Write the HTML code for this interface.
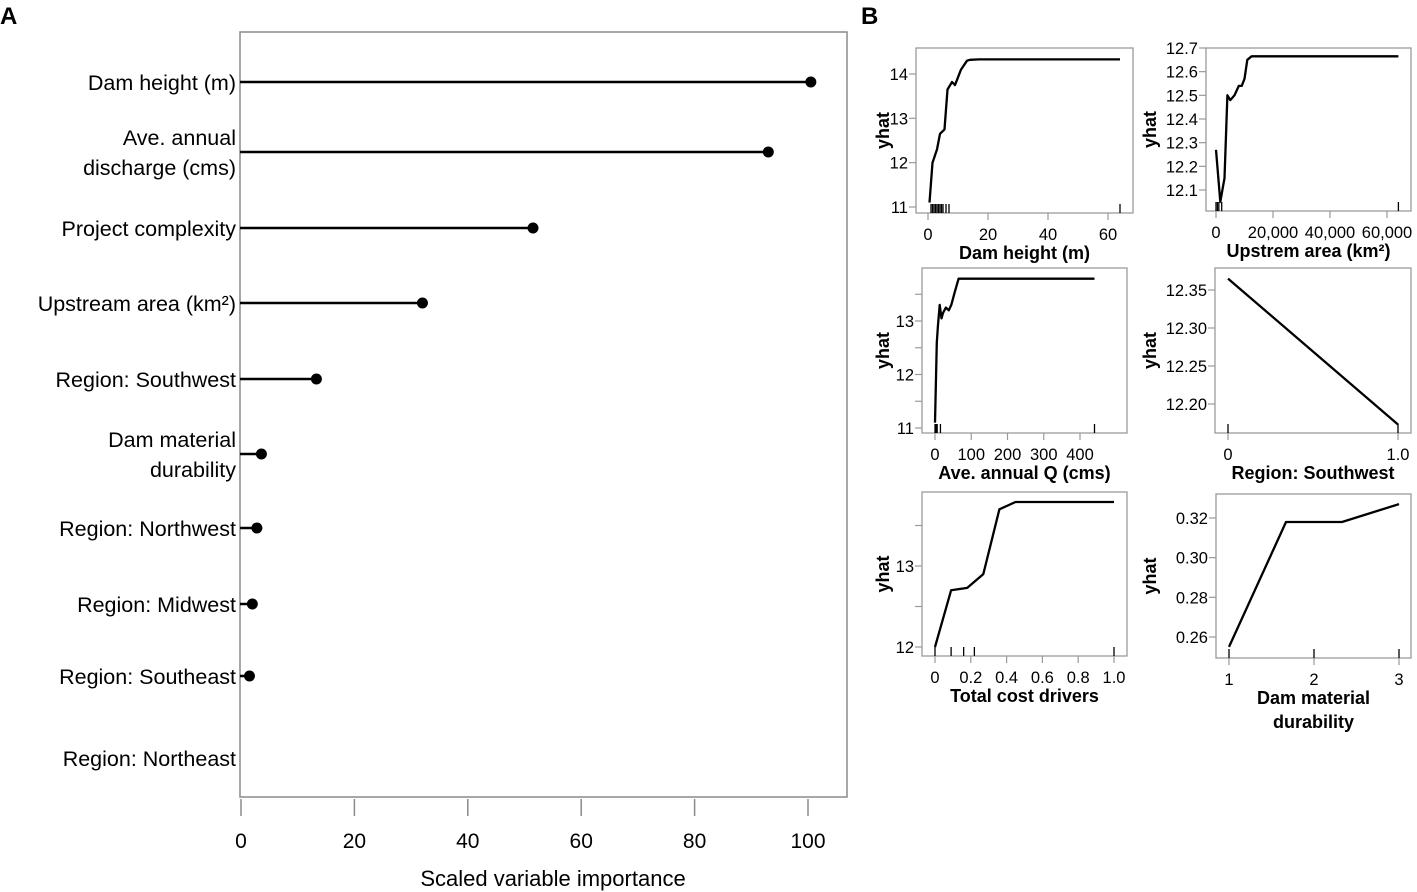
<!DOCTYPE html>
<html><head><meta charset="utf-8"><style>
html,body{margin:0;padding:0;background:#fff;}
svg{display:block;font-family:"Liberation Sans",sans-serif;}
</style></head><body>
<svg id="fig" width="1417" height="892" viewBox="0 0 1417 892" xmlns="http://www.w3.org/2000/svg">
<text x="0" y="24" font-size="24" font-weight="bold">A</text>
<text x="861" y="24" font-size="24" font-weight="bold">B</text>
<g id="pa"></g>
<g id="pb"></g>
</svg>
<script>
const NS="http://www.w3.org/2000/svg";
// Panel A data
const impLabels=[["Dam height (m)"],["Ave. annual","discharge (cms)"],["Project complexity"],["Upstream area (km²)"],["Region: Southwest"],["Dam material","durability"],["Region: Northwest"],["Region: Midwest"],["Region: Southeast"],["Region: Northeast"]];
const impValues=[100.5,93,51.5,32,13.3,3.6,2.8,2,1.5,null];
const impRowY=[82,152,228,303,379,454,528,604,676,758];
const impTicks=[0,20,40,60,80,100];

// Panel B data
const p1x=[0.5,1.5,3,4,5.5,6.5,8,9,11,13,14,17,64];
const p1y=[11.1,12,12.3,12.65,12.75,13.65,13.82,13.75,14.1,14.3,14.32,14.33,14.33];
const p1rug=[1,1.5,2,2.5,3,3.5,4,4.5,5,6,7,64];
const p2x=[0,1500,3000,4000,5000,6500,8000,9000,10000,11000,12500,64000];
const p2y=[12.27,12.05,12.15,12.5,12.48,12.5,12.54,12.54,12.57,12.65,12.665,12.665];
const p2rug=[0,500,1000,2000,64000];
const p3x=[0,5,8,13,18,22,30,38,45,55,65,440];
const p3y=[11.1,12.6,12.9,13.3,13.05,13.15,13.25,13.2,13.3,13.55,13.79,13.79];
const p3rug=[0,2,4,6,15,440];
const p4x=[0,1];
const p4y=[12.365,12.173];
const p4rug=[0,1];
const p5x=[0,0.09,0.18,0.27,0.36,0.45,1.0];
const p5y=[12,12.7,12.73,12.9,13.7,13.79,13.79];
const p5rug=[0,0.09,0.16,0.22,1.0];
const p6x=[1,1.67,2.33,3];
const p6y=[0.255,0.318,0.318,0.327];
const p6rug=[1,2,3];

function el(tag,attrs,parent,txt){const e=document.createElementNS(NS,tag);for(const k in attrs)e.setAttribute(k,attrs[k]);if(txt!==undefined)e.textContent=txt;parent.appendChild(e);return e;}

// Panel A
(function(){
  const g=document.getElementById('pa');
  const x=v=>241+v*5.67;
  const fr=el('rect',{x:240,y:32,width:607,height:765,fill:'none',stroke:'#8a8a8a','stroke-width':1.5},g);
  
  impTicks.forEach(t=>{
    const l=el('line',{x1:x(t),x2:x(t),y1:799,y2:816,stroke:'#8a8a8a','stroke-width':1.5},g);
    
    const tx=el('text',{x:x(t),y:848,'font-size':21,'text-anchor':'middle'},g,String(t));
    
  });
  const ttl=el('text',{x:553,y:886,'font-size':22,'text-anchor':'middle'},g,'Scaled variable importance');
  
  impLabels.forEach((lab,i)=>{
    const yy=impRowY[i];
    lab.forEach((s,j)=>{
      const off=lab.length===1?8:(j===0?-7:23);
      const t=el('text',{x:236,y:yy+off,'font-size':21.5,'text-anchor':'end'},g,s);
      
    });
    const v=impValues[i];
    if(v!==null){
      const ln=el('line',{x1:240,x2:x(v),y1:yy,y2:yy,stroke:'#000','stroke-width':2.5},g);
      
      const c=el('circle',{cx:x(v),cy:yy,r:5.5,fill:'#000'},g);
      
    }
  });
})();

// Panel B
function pd(cfg){
  const g=el('g',{},document.getElementById('pb'));
  
  const X=v=>cfg.x0+(v-cfg.xa)*(cfg.x1-cfg.x0)/(cfg.xb-cfg.xa);
  const Y=v=>cfg.y0+(v-cfg.ya)*(cfg.y1-cfg.y0)/(cfg.yb-cfg.ya);
  const f=el('rect',{x:cfg.fl,y:cfg.ft,width:cfg.fr-cfg.fl,height:cfg.fb-cfg.ft,fill:'none',stroke:'#9a9a9a','stroke-width':1.3},g);
  
  cfg.yt.forEach((t,i)=>{
    const l=el('line',{x1:cfg.fl-7,x2:cfg.fl,y1:Y(t),y2:Y(t),stroke:'#9a9a9a','stroke-width':1.2},g);
    
    if(cfg.ytl[i]!==''){
      const tx=el('text',{x:cfg.fl-8,y:Y(t)+6,'font-size':16.5,'text-anchor':'end'},g,cfg.ytl[i]);
      
    }
  });
  cfg.xt.forEach((t,i)=>{
    const l=el('line',{x1:X(t),x2:X(t),y1:cfg.fb,y2:cfg.fb+7,stroke:'#9a9a9a','stroke-width':1.2},g);
    
    const tx=el('text',{x:X(t),y:cfg.fb+27,'font-size':16.5,'text-anchor':'middle'},g,cfg.xtl[i]);
    
  });
  cfg.rug.forEach(r=>{
    const l=el('line',{x1:X(r),x2:X(r),y1:cfg.fb-9,y2:cfg.fb,stroke:'#000','stroke-width':1.3},g);
    
  });
  const pts=cfg.xs.map((v,i)=>X(v).toFixed(1)+','+Y(cfg.ys[i]).toFixed(1)).join(' ');
  const pl=el('polyline',{points:pts,fill:'none',stroke:'#000','stroke-width':2.3,'stroke-linejoin':'round'},g);
  
  const yl=el('text',{x:0,y:0,'font-size':18,'font-weight':'bold','text-anchor':'middle',transform:`translate(${cfg.ylx},${(cfg.ft+cfg.fb)/2}) rotate(-90)`},g,'yhat');
  
  cfg.title.forEach((s,j)=>{
    const t=el('text',{x:(cfg.fl+cfg.fr)/2,y:cfg.fb+46+j*24,'font-size':18,'font-weight':'bold','text-anchor':'middle'},g,s);
    
  });
}
pd({name:'pd-dam-height',fl:916,fr:1133,ft:48,fb:213,x0:928,x1:1108,xa:0,xb:60,y0:207,y1:74,ya:11,yb:14,
  yt:[11,12,13,14],ytl:['11','12','13','14'],xt:[0,20,40,60],xtl:['0','20','40','60'],rug:p1rug,xs:p1x,ys:p1y,ylx:889,title:['Dam height (m)']});
pd({name:'pd-upstream-area',fl:1206,fr:1411,ft:48,fb:211,x0:1216,x1:1387,xa:0,xb:60000,y0:190,y1:48,ya:12.1,yb:12.7,
  yt:[12.1,12.2,12.3,12.4,12.5,12.6,12.7],ytl:['12.1','12.2','12.3','12.4','12.5','12.6','12.7'],xt:[0,20000,40000,60000],xtl:['0','20,000','40,000','60,000'],rug:p2rug,xs:p2x,ys:p2y,ylx:1156,title:['Upstrem area (km²)']});
pd({name:'pd-annual-discharge',fl:922,fr:1127,ft:268,fb:433,x0:935,x1:1080,xa:0,xb:400,y0:428,y1:321,ya:11,yb:13,
  yt:[11,11.5,12,12.5,13,13.5],ytl:['11','','12','','13',''],xt:[0,100,200,300,400],xtl:['0','100','200','300','400'],rug:p3rug,xs:p3x,ys:p3y,ylx:889,title:['Ave. annual Q (cms)']});
pd({name:'pd-region-southwest',fl:1215,fr:1411,ft:268,fb:433,x0:1228,x1:1398,xa:0,xb:1,y0:404,y1:290,ya:12.20,yb:12.35,
  yt:[12.20,12.25,12.30,12.35],ytl:['12.20','12.25','12.30','12.35'],xt:[0,1],xtl:['0','1.0'],rug:p4rug,xs:p4x,ys:p4y,ylx:1156,title:['Region: Southwest']});
pd({name:'pd-total-cost-drivers',fl:922,fr:1127,ft:492,fb:656,x0:935,x1:1114,xa:0,xb:1,y0:647,y1:566,ya:12,yb:13,
  yt:[12,12.5,13,13.5],ytl:['12','','13',''],xt:[0,0.2,0.4,0.6,0.8,1.0],xtl:['0','0.2','0.4','0.6','0.8','1.0'],rug:p5rug,xs:p5x,ys:p5y,ylx:889,title:['Total cost drivers']});
pd({name:'pd-dam-material',fl:1216,fr:1411,ft:494,fb:658,x0:1229,x1:1399,xa:1,xb:3,y0:637,y1:518,ya:0.26,yb:0.32,
  yt:[0.26,0.28,0.30,0.32],ytl:['0.26','0.28','0.30','0.32'],xt:[1,2,3],xtl:['1','2','3'],rug:p6rug,xs:p6x,ys:p6y,ylx:1156,title:['Dam material','durability']});
</script>
</body></html>
